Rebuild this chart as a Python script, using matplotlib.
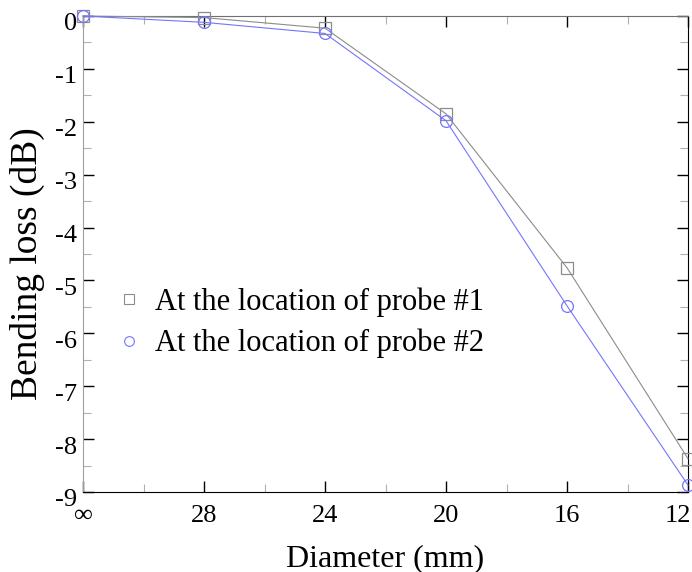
import matplotlib
matplotlib.use("Agg")
import matplotlib.pyplot as plt
import matplotlib.transforms as mtransforms
from matplotlib.lines import Line2D
from matplotlib.ticker import MultipleLocator, FixedLocator
import numpy as np

diameters = ["\u221e", "28", "24", "20", "16", "12"]
probe1_loss = [0.0, -0.03, -0.23, -1.85, -4.76, -8.37]
probe2_loss = [0.0, -0.12, -0.33, -1.98, -5.48, -8.87]
series_labels = ["At the location of probe #1", "At the location of probe #2"]

plt.rcParams.update({
    "font.family": "Liberation Serif",
    "axes.unicode_minus": False,
})

c1 = "#8c8c8c"
c2 = "#7474ff"

fig = plt.figure(figsize=(6.92, 5.72), dpi=100)
ax = fig.add_axes([83 / 692, 1 - 492 / 572, (688 - 83) / 692, (492 - 16) / 572])

x = np.arange(len(diameters))
ax.plot(x, probe1_loss, color=c1, linewidth=0.8, marker="s", markersize=8.5,
        markerfacecolor="none", markeredgecolor=c1, markeredgewidth=0.9, clip_on=False, zorder=3)
ax.plot(x, probe2_loss, color=c2, linewidth=0.8, marker="o", markersize=8.5,
        markerfacecolor="none", markeredgecolor=c2, markeredgewidth=0.9, clip_on=False, zorder=3)

ax.set_xlim(0, len(diameters) - 1)
ax.set_ylim(-9, 0)
ax.set_xticks(x)
ax.set_xticklabels(diameters)
ax.xaxis.set_minor_locator(FixedLocator(x[:-1] + 0.5))
ax.yaxis.set_major_locator(MultipleLocator(1))
ax.yaxis.set_minor_locator(MultipleLocator(0.5))
ax.set_yticklabels([f"{int(v)}" for v in ax.get_yticks()])

ax.tick_params(which="both", direction="in", top=True, right=True)
ax.tick_params(which="major", length=8, width=1.0, labelsize=19)
ax.tick_params(which="minor", length=6, width=0.8, color="#b0b0b0")
ax.tick_params(axis="x", which="major", pad=9.5)
ax.tick_params(axis="y", which="major", pad=4)

# y tick labels sit a little below their ticks in the reference
shift = mtransforms.ScaledTranslation(0, -0.06, fig.dpi_scale_trans)
for lab in ax.get_yticklabels():
    lab.set_transform(lab.get_transform() + shift)
last = ax.get_xticklabels()[-1]
last.set_horizontalalignment("right")
last.set_transform(last.get_transform()
                   + mtransforms.ScaledTranslation(0.03, 0, fig.dpi_scale_trans))

ax.spines["left"].set_color("#a0a0a0")
ax.spines["top"].set_color("#707070")
ax.spines["right"].set_color("black")
ax.spines["bottom"].set_color("black")

ax.set_xlabel("Diameter (mm)", fontsize=23, labelpad=12)
ax.set_ylabel("Bending loss (dB)", fontsize=27)
ax.yaxis.set_label_coords(-0.062, 0.479)

handles = [
    Line2D([], [], linestyle="none", marker="s", markersize=7, markerfacecolor="none",
           markeredgecolor=c1, markeredgewidth=0.8),
    Line2D([], [], linestyle="none", marker="o", markersize=7, markerfacecolor="none",
           markeredgecolor=c2, markeredgewidth=0.8),
]
ax.legend(handles, series_labels, loc="upper left", bbox_to_anchor=(0.035, 0.456),
          frameon=False, fontsize=22, handlelength=0.8, handletextpad=0.45,
          labelspacing=0.4, borderaxespad=0)

fig.savefig("out.png", dpi=100, facecolor="white")
